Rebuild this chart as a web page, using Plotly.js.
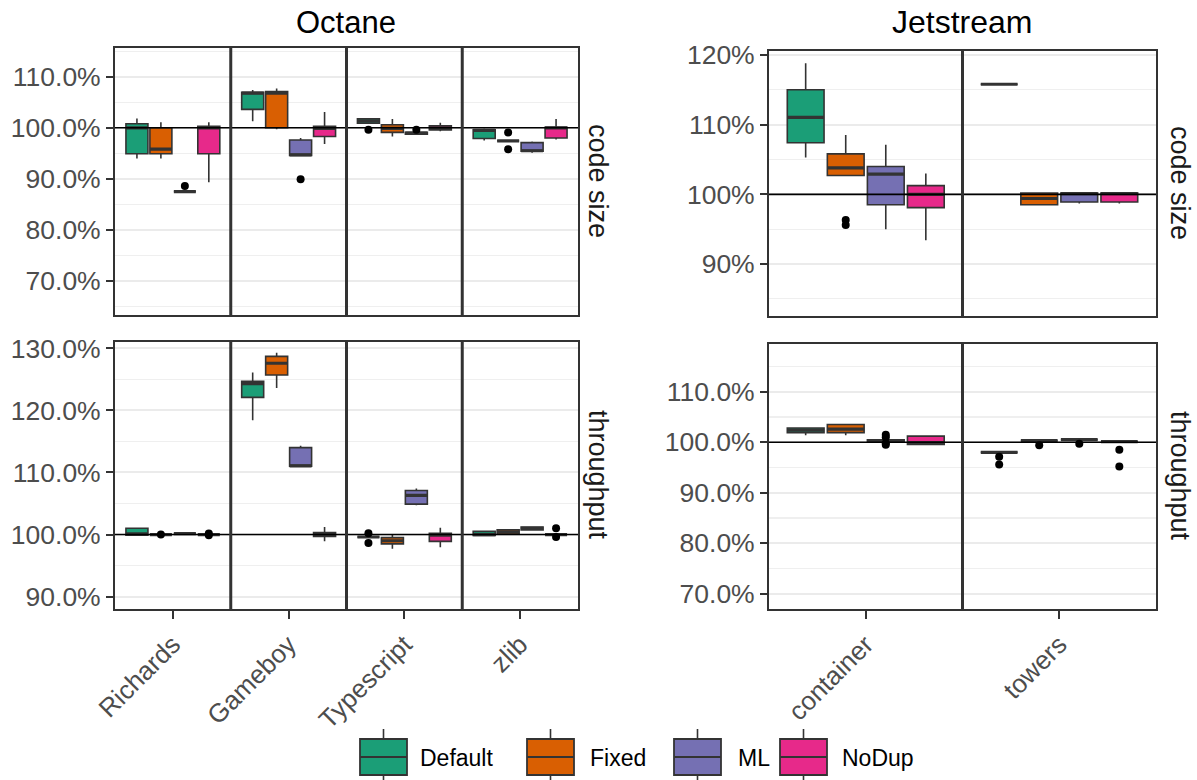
<!DOCTYPE html>
<html>
<head>
<meta charset="utf-8">
<script src="https://cdn.plot.ly/plotly-3.0.1.min.js"></script>
<style>html,body{margin:0;padding:0;background:#fff;}#chart{width:1197px;height:780px;}</style>
</head>
<body>
<div id="chart"></div>
<script>
// ---------- categories & series ----------
const octaneBenchmarks = ['Richards', 'Gameboy', 'Typescript', 'zlib'];
const jetstreamBenchmarks = ['container', 'towers'];
const seriesNames = ['Default', 'Fixed', 'ML', 'NoDup'];
const seriesColors = ['#1B9E77', '#D95F02', '#7570B3', '#E7298A'];

// ---------- box statistics (percent): [lower whisker, q1, median, q3, upper whisker] per benchmark ----------
// Octane – code size
const octCodeDefault = [[94.0, 94.9, 100.0, 100.8, 101.8], [101.3, 103.6, 106.8, 106.95, 107.4], [100.9, 100.9, 101.3, 101.75, 101.75], [97.5, 97.9, 99.5, 99.6, 99.8]];
const octCodeFixed   = [[94.0, 94.9, 95.8, 100.0, 101.1], [99.7, 100.0, 106.8, 107.1, 107.7], [98.3, 99.1, 99.9, 100.6, 101.7], [97.45, 97.45, 97.45, 97.45, 97.45]];
const octCodeML      = [[87.5, 87.5, 87.5, 87.5, 87.5], [94.6, 94.6, 94.7, 97.6, 98.0], [98.75, 98.75, 98.95, 99.1, 99.1], [95.1, 95.4, 95.5, 97.1, 97.3]];
const octCodeNoDup   = [[89.3, 94.9, 100.0, 100.3, 101.1], [96.8, 98.3, 99.9, 100.3, 103.1], [99.3, 99.6, 100.0, 100.4, 101.0], [97.7, 98.0, 100.0, 100.1, 101.7]];
const octCodeOutliers = [['Default', 'Typescript', 99.6], ['Fixed', 'zlib', 99.1], ['Fixed', 'zlib', 95.8], ['ML', 'Richards', 88.6], ['ML', 'Gameboy', 89.9], ['ML', 'Typescript', 99.6]];

// Octane – throughput
const octThrDefault = [[99.9, 99.9, 100.1, 101.0, 101.0], [118.4, 122.1, 124.3, 124.7, 126.1], [99.6, 99.6, 99.6, 99.6, 99.6], [99.85, 99.85, 100.0, 100.5, 100.5]];
const octThrFixed   = [[100.0, 100.0, 100.0, 100.0, 100.0], [123.6, 125.7, 127.6, 128.7, 129.3], [97.7, 98.5, 99.0, 99.5, 99.95], [100.05, 100.05, 100.4, 100.75, 100.75]];
const octThrML      = [[100.15, 100.15, 100.15, 100.15, 100.15], [111.0, 111.0, 111.05, 114.0, 114.3], [104.7, 104.9, 106.3, 107.1, 107.4], [100.75, 100.75, 101.0, 101.2, 101.2]];
const octThrNoDup   = [[100.0, 100.0, 100.0, 100.0, 100.0], [98.9, 99.7, 100.0, 100.3, 101.2], [97.95, 98.9, 99.9, 100.2, 101.1], [100.0, 100.0, 100.0, 100.0, 100.0]];
const octThrOutliers = [['Default', 'Typescript', 100.2], ['Default', 'Typescript', 98.65], ['Fixed', 'Richards', 100.0], ['NoDup', 'Richards', 100.15], ['NoDup', 'Richards', 99.9], ['NoDup', 'zlib', 101.0], ['NoDup', 'zlib', 99.6]];

// Jetstream – code size
const jetCodeDefault = [[105.3, 107.4, 111.05, 115.0, 118.8], [115.8, 115.8, 115.8, 115.8, 115.8]];
const jetCodeFixed   = [[102.6, 102.7, 103.8, 105.8, 108.5], [98.5, 98.5, 99.4, 100.2, 100.2]];
const jetCodeML      = [[95.0, 98.5, 102.9, 104.0, 107.1], [98.7, 98.9, 100.1, 100.2, 100.2]];
const jetCodeNoDup   = [[93.4, 98.1, 100.0, 101.25, 103.0], [98.7, 98.9, 100.1, 100.2, 100.2]];
const jetCodeOutliers = [['Fixed', 'container', 96.3], ['Fixed', 'container', 95.6]];

// Jetstream – throughput
const jetThrDefault = [[101.4, 101.9, 102.4, 102.8, 102.8], [98.0, 98.0, 98.0, 98.0, 98.0]];
const jetThrFixed   = [[101.4, 101.9, 102.6, 103.5, 103.6], [100.3, 100.3, 100.3, 100.3, 100.3]];
const jetThrML      = [[100.1, 100.1, 100.3, 100.5, 100.5], [100.5, 100.5, 100.5, 100.5, 100.5]];
const jetThrNoDup   = [[99.55, 99.55, 99.9, 101.2, 101.2], [100.1, 100.1, 100.1, 100.1, 100.1]];
const jetThrOutliers = [['ML', 'container', 101.5], ['ML', 'container', 101.0], ['ML', 'container', 99.8], ['ML', 'container', 99.5],
  ['Default', 'towers', 97.1], ['Default', 'towers', 95.6], ['Fixed', 'towers', 99.4], ['ML', 'towers', 99.7], ['NoDup', 'towers', 98.5], ['NoDup', 'towers', 95.2]];

// ---------- drawing ----------
const DODGE = 0.207;   // spacing between dodged boxes (in category units)
const BOXW = 0.19;     // box width (category units)
const LINE = '#333333';
const FONT = 'Liberation Sans, Arial, sans-serif';

const traces = [];
function addPanel(cats, seriesStats, outliers, xa, ya) {
  seriesStats.forEach((stats, s) => {
    const pos = cats.map((c, i) => i + (s - 1.5) * DODGE);
    traces.push({
      type: 'box', name: seriesNames[s], showlegend: false,
      xaxis: xa, yaxis: ya, x: pos,
      lowerfence: stats.map(r => r[0]), q1: stats.map(r => r[1]), median: stats.map(r => r[2]),
      q3: stats.map(r => r[3]), upperfence: stats.map(r => r[4]),
      width: BOXW, whiskerwidth: 0, fillcolor: seriesColors[s],
      line: {color: LINE, width: 1.6}, boxpoints: false, hoverinfo: 'skip'
    });
    // thicker median bar (ggplot style)
    const med = stats.map(r => r[2]);
    traces.push({
      type: 'box', showlegend: false, xaxis: xa, yaxis: ya, x: pos,
      lowerfence: med, q1: med, median: med, q3: med, upperfence: med,
      width: BOXW, whiskerwidth: 0, fillcolor: 'rgba(0,0,0,0)',
      line: {color: LINE, width: 3.2}, boxpoints: false, hoverinfo: 'skip'
    });
  });
  traces.push({
    type: 'scatter', mode: 'markers', showlegend: false, xaxis: xa, yaxis: ya, hoverinfo: 'skip',
    x: outliers.map(o => cats.indexOf(o[1]) + (seriesNames.indexOf(o[0]) - 1.5) * DODGE),
    y: outliers.map(o => o[2]),
    marker: {color: '#000', size: 8}
  });
}
addPanel(octaneBenchmarks, [octCodeDefault, octCodeFixed, octCodeML, octCodeNoDup], octCodeOutliers, 'x', 'y');
addPanel(octaneBenchmarks, [octThrDefault, octThrFixed, octThrML, octThrNoDup], octThrOutliers, 'x2', 'y2');
addPanel(jetstreamBenchmarks, [jetCodeDefault, jetCodeFixed, jetCodeML, jetCodeNoDup], jetCodeOutliers, 'x3', 'y3');
addPanel(jetstreamBenchmarks, [jetThrDefault, jetThrFixed, jetThrML, jetThrNoDup], jetThrOutliers, 'x4', 'y4');

const W = 1197, H = 780;
const octX = [115 / W, 578 / W], jetX = [769 / W, 1156 / W];
function ydom(top, bottom) { return [1 - bottom / H, 1 - top / H]; }

function xAxis(domain, anchor, cats, showLabels) {
  return {
    domain: domain, anchor: anchor, range: [-0.5, cats.length - 0.5],
    showgrid: false, zeroline: false, showline: true, mirror: true, linecolor: LINE, linewidth: 2,
    tickmode: 'array', tickvals: cats.map((c, i) => i), ticktext: cats,
    showticklabels: showLabels, ticks: showLabels ? 'outside' : '', ticklen: 8, tickwidth: 2, tickcolor: LINE,
    tickangle: -45, tickfont: {family: FONT, size: 26, color: '#4d4d4d'}, fixedrange: true
  };
}
function yAxis(domain, anchor, range, fmt) {
  return {
    domain: domain, anchor: anchor, range: range, tickmode: 'linear', tick0: 0, dtick: 10,
    tickformat: fmt, ticksuffix: '%', showgrid: true, gridcolor: '#ebebeb', gridwidth: 2,
    minor: {tick0: 0, dtick: 5, showgrid: true, gridcolor: '#efefef', gridwidth: 1.2},
    zeroline: false, showline: true, mirror: true, linecolor: LINE, linewidth: 2,
    ticks: 'outside', ticklen: 7, tickwidth: 2, tickcolor: LINE,
    tickfont: {family: FONT, size: 26.5, color: '#4d4d4d'}, fixedrange: true
  };
}

const shapes = [];
[['x', 'y'], ['x2', 'y2'], ['x3', 'y3'], ['x4', 'y4']].forEach(([xa, ya], k) => {
  shapes.push({type: 'line', xref: xa + ' domain', x0: 0, x1: 1, yref: ya, y0: 100, y1: 100, line: {color: '#000', width: 1.6}, layer: 'above'});
  const n = k < 2 ? octaneBenchmarks.length : jetstreamBenchmarks.length;
  for (let i = 0; i < n - 1; i++) {
    shapes.push({type: 'line', xref: xa, x0: i + 0.5, x1: i + 0.5, yref: ya + ' domain', y0: 0, y1: 1, line: {color: LINE, width: 3}, layer: 'above'});
  }
});

const stripFont = {family: FONT, size: 27, color: '#1a1a1a'};
const annotations = [
  {text: 'Octane', xref: 'paper', yref: 'paper', x: 346 / W, y: 1 - 22 / H, showarrow: false, font: {family: FONT, size: 31, color: '#000'}, xanchor: 'center', yanchor: 'middle'},
  {text: 'Jetstream', xref: 'paper', yref: 'paper', x: 962 / W, y: 1 - 22 / H, showarrow: false, font: {family: FONT, size: 32, color: '#000'}, xanchor: 'center', yanchor: 'middle'},
  {text: 'code size', xref: 'paper', yref: 'paper', x: 598 / W, y: 1 - 181 / H, showarrow: false, textangle: 90, font: stripFont, xanchor: 'center', yanchor: 'middle'},
  {text: 'throughput', xref: 'paper', yref: 'paper', x: 598 / W, y: 1 - 475 / H, showarrow: false, textangle: 90, font: stripFont, xanchor: 'center', yanchor: 'middle'},
  {text: 'code size', xref: 'paper', yref: 'paper', x: 1180 / W, y: 1 - 183 / H, showarrow: false, textangle: 90, font: stripFont, xanchor: 'center', yanchor: 'middle'},
  {text: 'throughput', xref: 'paper', yref: 'paper', x: 1180 / W, y: 1 - 476 / H, showarrow: false, textangle: 90, font: stripFont, xanchor: 'center', yanchor: 'middle'}
];

// ---------- legend (drawn as keys in pixel/paper space) ----------
const legendKeyLeft = [360, 527, 674, 780];
const legendTextLeft = [418, 588, 736, 840];
const KEYW = 47, KEYTOP = 739, KEYBOT = 775, WHTOP = 729, WHBOT = 782, KEYMID = 757;
seriesNames.forEach((name, s) => {
  const x0 = legendKeyLeft[s] / W, x1 = (legendKeyLeft[s] + KEYW) / W, xm = (legendKeyLeft[s] + KEYW / 2) / W;
  shapes.push({type: 'line', xref: 'paper', yref: 'paper', x0: xm, x1: xm, y0: 1 - WHTOP / H, y1: 1 - KEYTOP / H, line: {color: LINE, width: 1.6}});
  shapes.push({type: 'line', xref: 'paper', yref: 'paper', x0: xm, x1: xm, y0: 1 - KEYBOT / H, y1: 1 - WHBOT / H, line: {color: LINE, width: 1.6}});
  shapes.push({type: 'rect', xref: 'paper', yref: 'paper', x0: x0, x1: x1, y0: 1 - KEYBOT / H, y1: 1 - KEYTOP / H, fillcolor: seriesColors[s], line: {color: LINE, width: 1.8}});
  shapes.push({type: 'line', xref: 'paper', yref: 'paper', x0: x0, x1: x1, y0: 1 - KEYMID / H, y1: 1 - KEYMID / H, line: {color: LINE, width: 2}});
  annotations.push({text: name, xref: 'paper', yref: 'paper', x: legendTextLeft[s] / W, y: 1 - 758 / H, xanchor: 'left', yanchor: 'middle',
    showarrow: false, font: {family: FONT, size: 23, color: '#000'}});
});

const layout = {
  width: W, height: H, margin: {l: 0, r: 0, t: 0, b: 0}, paper_bgcolor: '#fff', plot_bgcolor: '#fff',
  boxmode: 'overlay', showlegend: false,
  xaxis: xAxis(octX, 'y', octaneBenchmarks, false),
  yaxis: yAxis(ydom(47.7, 315), 'x', [63.3, 115.7], '.1f'),
  xaxis2: xAxis(octX, 'y2', octaneBenchmarks, true),
  yaxis2: yAxis(ydom(341.7, 609), 'x2', [88.0, 131.07], '.1f'),
  xaxis3: xAxis(jetX, 'y3', jetstreamBenchmarks, false),
  yaxis3: yAxis(ydom(51, 316), 'x3', [82.54, 120.57], '.0f'),
  xaxis4: xAxis(jetX, 'y4', jetstreamBenchmarks, true),
  yaxis4: yAxis(ydom(344, 609), 'x4', [66.97, 119.45], '.1f'),
  shapes: shapes, annotations: annotations
};

Plotly.newPlot('chart', traces, layout, {displayModeBar: false, staticPlot: true});
</script>
</body>
</html>
